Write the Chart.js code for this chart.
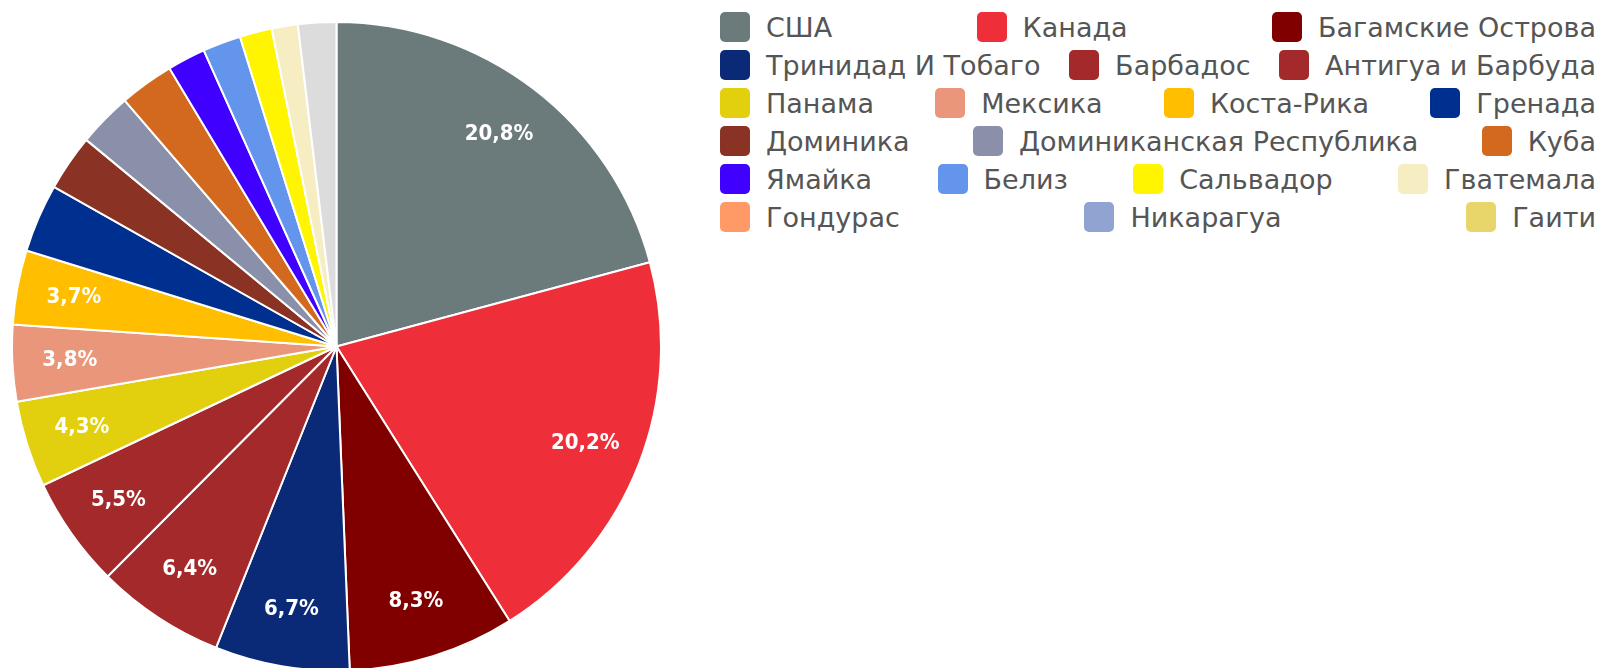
<!DOCTYPE html>
<html><head><meta charset="utf-8">
<script src="https://cdn.jsdelivr.net/npm/chart.js@4"></script>
<style>
html,body{margin:0;padding:0;width:1602px;height:668px;overflow:hidden;background:#fff;}
#pieBox{position:absolute;left:11px;top:21px;width:651px;height:651px;}
#legend{position:absolute;left:720px;top:12px;width:876px;display:flex;flex-wrap:wrap;justify-content:space-between;column-gap:12px;row-gap:8px;font-family:"DejaVu Sans",sans-serif;font-size:27px;color:#555;}
.item{display:flex;align-items:center;height:30px;white-space:nowrap;}
.sw{width:30px;height:30px;border-radius:5px;margin-right:16px;flex:none;}
</style></head>
<body>
<div id="pieBox"><canvas id="c"></canvas></div>
<div id="legend"></div>
<script>
const categories = ["США","Канада","Багамские Острова","Тринидад И Тобаго","Барбадос","Антигуа и Барбуда","Панама","Мексика","Коста-Рика","Гренада","Доминика","Доминиканская Республика","Куба","Ямайка","Белиз","Сальвадор","Гватемала","Гондурас","Никарагуа","Гаити","Прочие"];
const shares = [20.8,20.2,8.3,6.7,6.4,5.5,4.3,3.8,3.7,3.4,2.8,2.7,2.7,1.9,1.9,1.6,1.3,0,0,0,1.9];
const colors = ["#6b7b7b","#ee2f3a","#800000","#0a2a78","#a3292a","#a3292a","#e2cf0d","#e9967a","#ffbf00","#00308f","#8a3223","#8b90aa","#d2691e","#3f00ff","#6495ed","#fff500","#f7edc2","#ff9966","#91a3d0","#e9d66b","#dcdcdc"];
const legendCount = 20;

const labelPlugin = {
  id:'pctLabels',
  afterDatasetsDraw(chart){
    const ctx = chart.ctx;
    const ds = chart.data.datasets[0].data;
    const total = ds.reduce((a,b)=>a+b,0);
    chart.getDatasetMeta(0).data.forEach((arc,i)=>{
      const pct = ds[i]/total*100;
      if (pct < 3.5) return;
      const p = arc.getProps(['x','y','startAngle','endAngle','outerRadius'],true);
      const a = (p.startAngle+p.endAngle)/2;
      const r = p.outerRadius*0.823;
      ctx.save();
      ctx.fillStyle='#fff';
      ctx.font='bold 22px "DejaVu Sans Condensed","DejaVu Sans",sans-serif';
      ctx.textAlign='center';ctx.textBaseline='middle';
      ctx.fillText(pct.toFixed(1).replace('.',',')+'%', p.x+Math.cos(a)*r, p.y+Math.sin(a)*r);
      ctx.restore();
    });
  }
};

new Chart(document.getElementById('c'),{
  type:'pie',
  data:{labels:categories,datasets:[{data:shares,backgroundColor:colors,borderColor:'#fff',borderWidth:2}]},
  options:{responsive:true,maintainAspectRatio:false,animation:false,
    layout:{padding:0},
    plugins:{legend:{display:false},tooltip:{enabled:false}}},
  plugins:[labelPlugin]
});

const lg = document.getElementById('legend');
categories.slice(0,legendCount).forEach((name,i)=>{
  const it=document.createElement('div');it.className='item';
  const sw=document.createElement('span');sw.className='sw';sw.style.background=colors[i];
  const tx=document.createElement('span');tx.textContent=name;
  it.appendChild(sw);it.appendChild(tx);lg.appendChild(it);
});
</script>
</body></html>
